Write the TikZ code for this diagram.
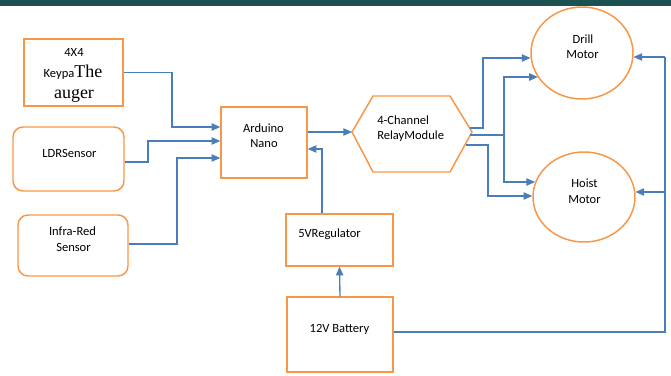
\documentclass[tikz,border=0pt]{standalone}
\usepackage{fontspec}
\setmainfont{Carlito}
\newfontfamily\serifface{Liberation Serif}
\usetikzlibrary{arrows.meta,shapes.geometric}
\definecolor{borange}{HTML}{F79646}
\definecolor{lblue}{HTML}{4A7EBB}
\definecolor{topbar}{HTML}{1C5152}
\begin{document}
\begin{tikzpicture}[x=0.75pt,y=-0.75pt,
  box/.style={draw=borange, line width=1.1pt, inner sep=0pt},
  rbox/.style={box, rounded corners=7.5pt},
  motor/.style={box, ellipse},
  txt/.style={inner sep=0pt, anchor=base, font=\fontsize{9.4}{11}\selectfont},
  ltxt/.style={txt, anchor=base west},
  big/.style={font=\serifface\fontsize{13.5}{15}\selectfont},
  wire/.style={draw=lblue, line width=1pt},
  arr/.style={wire, -{Triangle[length=6.5pt,width=5.5pt]}}]
\useasboundingbox (0,0) rectangle (671,375);
\fill[topbar] (0,0) rectangle (671,6);
% blocks
\node[box, minimum width=99*0.75pt, minimum height=67*0.75pt] (kp) at (73.5,72.5) {};
\node[rbox, minimum width=111*0.75pt, minimum height=64*0.75pt] (ldr) at (68.5,159) {};
\node[rbox, minimum width=110*0.75pt, minimum height=61*0.75pt] (ir) at (73,245.5) {};
\node[box, minimum width=86*0.75pt, minimum height=71*0.75pt] (ard) at (264,142.5) {};
\node[box, minimum width=107*0.75pt, minimum height=52*0.75pt] (reg) at (339.5,240) {};
\node[box, minimum width=106*0.75pt, minimum height=75*0.75pt] (bat) at (340,334.5) {};
\node[motor, minimum width=102*0.75pt, minimum height=92*0.75pt] (drill) at (582,53) {};
\node[motor, minimum width=102*0.75pt, minimum height=90*0.75pt] (hoist) at (584,197) {};
% relay hexagon
\draw[draw=borange, line width=1.1pt] (352,132) coordinate (rL) -- (373,96) -- (450,96)
  -- (472,132) coordinate (rR) -- (450,172) -- (373,172) -- cycle;
\coordinate (rO1) at (470,128);
\coordinate (rO2) at (470,135);
\coordinate (rO3) at (466,145);
% texts
\node[txt] (kpA) at (74,56) {4X4};
\node[txt] (kpB) at (73,77) {Keypa{\serifface\fontsize{13.5}{15}\selectfont The}};
\node[txt, big] (kpC) at (74,98) {auger};
\node[txt] (ldrT) at (69.5,157) {LDRSensor};
\node[txt] (irA) at (72.5,235) {Infra-Red};
\node[txt] (irB) at (73.5,251) {Sensor};
\node[txt] (ardA) at (263.5,132) {Arduino};
\node[txt] (ardB) at (264,147) {Nano};
\node[ltxt] (relA) at (377,124) {4-Channel};
\node[ltxt] (relB) at (377,139) {RelayModule};
\node[txt] (drA) at (583,43) {Drill};
\node[txt] (drB) at (582.5,58) {Motor};
\node[txt] (hoA) at (584.5,187) {Hoist};
\node[txt] (hoB) at (584.5,203) {Motor};
\node[ltxt] (regT) at (298,237) {5VRegulator};
\node[txt] (batT) at (339.5,332) {12V Battery};
% connectors
\draw[arr] (kp.east) -| (172,127) -- (ard.west |- 0,127);
\draw[arr] (ldr.east |- 0,162) -| (148,141) -- (ard.west |- 0,141);
\draw[arr] (ir.east |- 0,244) -| (177,158) -- (ard.west |- 0,158);
\draw[arr] (ard.east |- 0,132) -- (rL);
\draw[arr] (reg.north -| 322,0) -- (322,149) -- (ard.east |- 0,149);
\draw[arr] (bat.north) -- (reg.south);
\coordinate (pc1) at (665,57);
\coordinate (pc2) at (665,192);
\draw[wire] (bat.east |- 0,332) -| (pc1);
\draw[arr] (pc1) -- (drill.-5 |- pc1);
\draw[arr] (pc2) -- (hoist.5 |- pc2);
\draw[arr] (rO1) -| (483,58) -- (drill.185 |- 0,58);
\draw[arr] (rO2) -| (504,77) -- (drill.209 |- 0,77);
\draw[arr] (504,135) |- (hoist.163 |- 0,182);
\draw[arr] (rO3) -| (488,196) -- (hoist.west |- 0,196);
\end{tikzpicture}
\end{document}
